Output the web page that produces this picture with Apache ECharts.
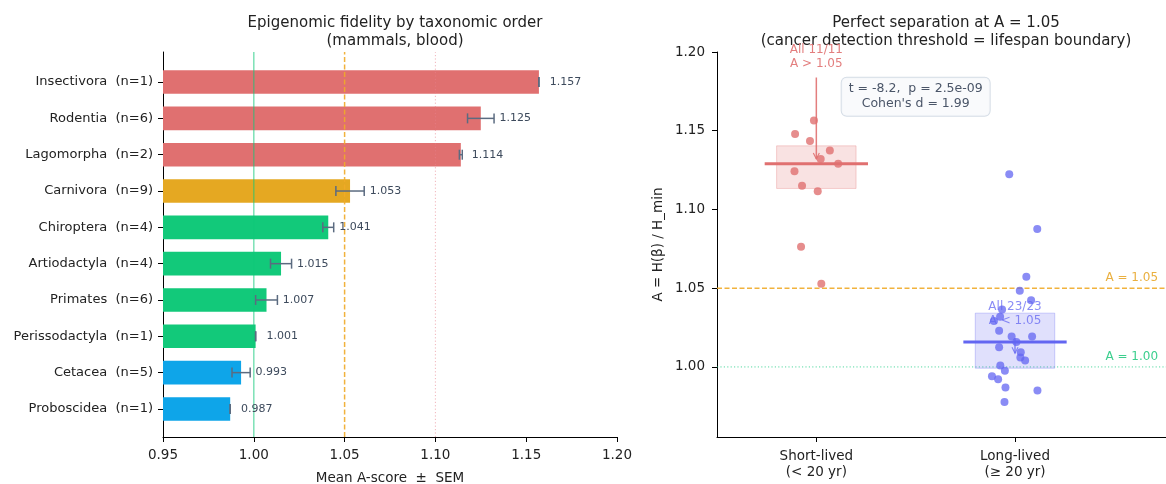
<!DOCTYPE html>
<html><head><meta charset="utf-8">
<script src="https://cdn.jsdelivr.net/npm/echarts@6/dist/echarts.min.js"></script>
<style>html,body{margin:0;padding:0;background:#fff}#c{width:1166px;height:484px}</style>
</head><body><div id="c"></div>
<script>
// ---------- Left panel data ----------
const orders = ['Insectivora','Rodentia','Lagomorpha','Carnivora','Chiroptera','Artiodactyla','Primates','Perissodactyla','Cetacea','Proboscidea'];
const orderN = [1,6,2,9,4,4,6,1,5,1];
const meanA = [1.157,1.125,1.114,1.053,1.041,1.015,1.007,1.001,0.993,0.987];
const semA  = [0,0.0073,0.0008,0.0078,0.003,0.0058,0.006,0,0.005,0];
const orderClass = ['high','high','high','mid','ok','ok','ok','ok','low','low'];
const xTicksLeft = [0.95,1.00,1.05,1.10,1.15,1.20];
const leftRefs = [1.00,1.05,1.10];

// ---------- Right panel data ----------
const groupLabels = ['Short-lived\n(< 20 yr)','Long-lived\n(\u2265 20 yr)'];
const shortJitter = [-0.012,-0.107,-0.032,0.068,0.022,0.110,-0.110,-0.072,0.007,-0.077,0.025];
const shortA      = [1.1565,1.148,1.1434,1.1374,1.1321,1.1291,1.1243,1.1151,1.1116,1.0763,1.0528];
const longJitter = [-0.029,0.112,0.057,0.024,0.081,-0.065,-0.075,-0.106,-0.080,-0.017,0.086,0.007,-0.080,0.029,0.027,0.051,-0.074,-0.051,-0.116,-0.085,-0.048,0.113,-0.053];
const longA      = [1.1224,1.0876,1.0573,1.0484,1.0424,1.0365,1.0318,1.0291,1.0229,1.0193,1.0193,1.0159,1.0125,1.0094,1.0060,1.0041,1.0009,0.9975,0.9941,0.9922,0.9869,0.9850,0.9777];
const yTicksRight = [1.00,1.05,1.10,1.15,1.20];

const FONT = 'DejaVu Sans';
const classColor = {high:'#e07070', mid:'#e5a822', ok:'#12c97a', low:'#0ea5e9'};
const RED = '#e07070', BLUE = '#6366f1';

function quantile(arr, q){
  const s = arr.slice().sort((a,b)=>a-b);
  const pos = (s.length-1)*q, lo = Math.floor(pos), hi = Math.ceil(pos);
  return s[lo] + (s[hi]-s[lo])*(pos-lo);
}
const groupStats = [shortA, longA].map((a,i)=>[i, quantile(a,0.25), quantile(a,0.5), quantile(a,0.75)]);

const chart = echarts.init(document.getElementById('c'), null, {renderer:'canvas'});

const option = {
  animation:false,
  backgroundColor:'#ffffff',
  textStyle:{fontFamily:FONT},
  title:[
    {text:'Epigenomic fidelity by taxonomic order\n(mammals, blood)', left:390, top:9, textAlign:'center',
     textStyle:{fontFamily:FONT,fontSize:15,fontWeight:'normal',color:'#222',lineHeight:18}},
    {text:'Perfect separation at A = 1.05\n(cancer detection threshold = lifespan boundary)', left:941, top:9, textAlign:'center',
     textStyle:{fontFamily:FONT,fontSize:15,fontWeight:'normal',color:'#222',lineHeight:18}}
  ],
  grid:[
    {left:163, right:549, top:52, bottom:47, outerBoundsMode:'none', containLabel:false},
    {left:163, right:549, top:63.9, bottom:56.9, outerBoundsMode:'none', containLabel:false},
    {left:717, right:0, top:52, bottom:47, outerBoundsMode:'none', containLabel:false}
  ],
  xAxis:[
    {type:'value', gridIndex:0, min:0.95, max:1.20, interval:0.05,
     axisLine:{lineStyle:{color:'#000',width:1}}, axisTick:{length:5,lineStyle:{color:'#000'}},
     axisLabel:{formatter:v=>v.toFixed(2), fontSize:13.5, color:'#222', margin:11, fontFamily:FONT},
     splitLine:{show:false},
     name:'Mean A-score  \u00b1  SEM', nameLocation:'middle', nameGap:34,
     nameTextStyle:{fontSize:13.5, color:'#222', fontFamily:FONT}},
    {type:'value', gridIndex:1, min:0.95, max:1.20, show:false},
    {type:'value', gridIndex:2, min:-0.5, max:1.76,
     axisLine:{onZero:false, lineStyle:{color:'#000',width:1}},
     axisTick:{length:5, customValues:[0,1], lineStyle:{color:'#000'}},
     axisLabel:{customValues:[0,1], formatter:v=>groupLabels[Math.round(v)], fontSize:13.5, color:'#222', lineHeight:16, margin:11, fontFamily:FONT},
     splitLine:{show:false}}
  ],
  yAxis:[
    {type:'value', gridIndex:0, min:0, max:1, axisLine:{show:true,onZero:false,lineStyle:{color:'#000'}},
     axisTick:{show:false}, axisLabel:{show:false}, splitLine:{show:false}},
    {type:'category', gridIndex:1, inverse:true, data:orders.map((o,i)=>o+'  (n='+orderN[i]+')'),
     axisLine:{show:false}, axisTick:{show:true, alignWithLabel:true, length:5, lineStyle:{color:'#000'}},
     axisLabel:{fontSize:13, color:'#222', margin:10, fontFamily:FONT}},
    {type:'value', gridIndex:2, min:0.9555, max:1.2,
     axisLine:{show:true, onZero:false, lineStyle:{color:'#000'}},
     axisTick:{show:true, length:5, customValues:yTicksRight, lineStyle:{color:'#000'}},
     axisLabel:{customValues:yTicksRight, formatter:v=>v.toFixed(2), fontSize:13.5, color:'#222', margin:12, fontFamily:FONT},
     splitLine:{show:false},
     name:'A = H(\u03b2) / H_min', nameLocation:'middle', nameGap:52,
     nameTextStyle:{fontSize:13.5, color:'#222', fontFamily:FONT}}
  ],
  series:[
    // bars
    {type:'bar', xAxisIndex:1, yAxisIndex:1, barWidth:'65%', z:2,
     data:meanA.map((m,i)=>({value:m, itemStyle:{color:classColor[orderClass[i]]}}))},
    // error bars + value labels
    {type:'custom', xAxisIndex:1, yAxisIndex:1, z:6,
     encode:{x:1,y:0},
     data:meanA.map((m,i)=>[i,m,semA[i]]),
     renderItem(params, api){
       const i = api.value(0), m = api.value(1), s = api.value(2);
       const a = api.coord([m - s, i]), b = api.coord([m + s, i]);
       const lx = api.coord([m + Math.max(s,0.003) + 0.003, i]);
       const st = {stroke:'#5b6b80', lineWidth:1.5};
       return {type:'group', children:[
         {type:'line', shape:{x1:a[0],y1:a[1],x2:b[0],y2:b[1]}, style:st},
         {type:'line', shape:{x1:a[0],y1:a[1]-5,x2:a[0],y2:a[1]+5}, style:st},
         {type:'line', shape:{x1:b[0],y1:b[1]-5,x2:b[0],y2:b[1]+5}, style:st},
         {type:'text', style:{text:m.toFixed(3), x:lx[0], y:lx[1], align:'left', verticalAlign:'middle',
           fill:'#3d4a5c', font:'11px "DejaVu Sans"'}}
       ]};
     }},
    // left reference lines
    {type:'custom', xAxisIndex:0, yAxisIndex:0, z:5,
     encode:{x:0},
     data:leftRefs.map(v=>[v]),
     renderItem(params, api){
       const v = api.value(0);
       const p0 = api.coord([v,0]), p1 = api.coord([v,1]);
       const styles = [
         {stroke:'rgba(16,201,122,0.55)', lineWidth:1.5},
         {stroke:'rgba(240,170,40,0.9)', lineWidth:1.5, lineDash:[5,2.5]},
         {stroke:'rgba(230,130,140,0.6)', lineWidth:1, lineDash:[1.2,2.2]}
       ];
       return {type:'line', shape:{x1:p0[0],y1:p0[1],x2:p1[0],y2:p1[1]}, style:styles[params.dataIndex]};
     }},
    // right: IQR boxes and medians
    {type:'custom', xAxisIndex:2, yAxisIndex:2, z:2,
     encode:{x:0,y:[1,2,3]},
     data:groupStats,
     renderItem(params, api){
       const g = api.value(0), q1 = api.value(1), med = api.value(2), q3 = api.value(3);
       const col = g === 0 ? [224,112,112] : [99,102,241];
       const tl = api.coord([g-0.2, q3]), br = api.coord([g+0.2, q1]);
       const m0 = api.coord([g-0.26, med]), m1 = api.coord([g+0.26, med]);
       return {type:'group', children:[
         {type:'rect', shape:{x:tl[0], y:tl[1], width:br[0]-tl[0], height:br[1]-tl[1]},
          style:{fill:'rgba('+col.join(',')+',0.2)', stroke:'rgba('+col.join(',')+',0.3)', lineWidth:1}},
         {type:'line', z2:20, shape:{x1:m0[0],y1:m0[1],x2:m1[0],y2:m1[1]},
          style:{stroke:'rgb('+col.join(',')+')', lineWidth:3}}
       ]};
     }},
    // right: reference lines
    {type:'custom', xAxisIndex:2, yAxisIndex:2, z:1,
     encode:{y:0},
     data:[[1.05],[1.00]],
     renderItem(params, api){
       const v = api.value(0);
       const p0 = api.coord([-0.5, v]), p1 = api.coord([1.76, v]), pl = api.coord([1.72, v]);
       const isT = params.dataIndex === 0;
       const col = isT ? 'rgba(240,170,40,0.9)' : 'rgba(16,201,122,0.7)';
       const tcol = isT ? '#eab040' : '#3ccf8e';
       return {type:'group', children:[
         {type:'line', shape:{x1:p0[0],y1:p0[1],x2:p1[0],y2:p1[1]},
          style: isT ? {stroke:col, lineWidth:1.5, lineDash:[5,2.5]} : {stroke:col, lineWidth:1, lineDash:[1.2,2.2]}},
         {type:'text', style:{text:'A = '+v.toFixed(2), x:pl[0], y:p0[1]-4, align:'right', verticalAlign:'bottom',
          fill:tcol, font:'12px "DejaVu Sans"'}}
       ]};
     }},
    // scatter points
    {type:'scatter', xAxisIndex:2, yAxisIndex:2, z:3, symbolSize:8,
     itemStyle:{color:RED, opacity:0.8},
     data:shortA.map((v,i)=>[shortJitter[i], v])},
    {type:'scatter', xAxisIndex:2, yAxisIndex:2, z:3, symbolSize:8,
     itemStyle:{color:BLUE, opacity:0.75},
     data:longA.map((v,i)=>[1 + longJitter[i], v])},
    // annotations: text + arrows
    {type:'custom', xAxisIndex:2, yAxisIndex:2, z:10,
     encode:{x:0,y:[1,2,3]},
     data:[[0,1.197,1.1838,1.1321],[1,1.0338,1.0183,1.0087]],
     renderItem(params, api){
       const g = api.value(0);
       const pt = api.coord([g, api.value(1)]), p0 = api.coord([g, api.value(2)]), p1 = api.coord([g, api.value(3)]);
       const col = g === 0 ? 'rgba(224,112,112,0.9)' : 'rgba(99,102,241,0.75)';
       const txt = g === 0 ? 'All 11/11\nA > 1.05' : 'All 23/23\nA < 1.05';
       return {type:'group', children:[
         {type:'text', style:{text:txt, x:pt[0], y:pt[1], align:'center', verticalAlign:'middle',
           fill:col, font:'12px "DejaVu Sans"', lineHeight:14.5}},
         {type:'line', shape:{x1:p0[0],y1:p0[1],x2:p1[0],y2:p1[1]}, style:{stroke:col, lineWidth:1.5}},
         {type:'polyline', shape:{points:[[p1[0]-3,p1[1]-6],[p1[0],p1[1]],[p1[0]+3,p1[1]-6]]}, style:{stroke:col, lineWidth:1.2, fill:null}}
       ]};
     }},
    // stats box
    {type:'custom', xAxisIndex:2, yAxisIndex:2, z:10,
     encode:{x:0,y:1},
     data:[[0.5,1.1716]],
     renderItem(params, api){
       const p = api.coord([api.value(0), api.value(1)]);
       return {type:'text', style:{text:"t = -8.2,  p = 2.5e-09\nCohen's d = 1.99", x:p[0], y:p[1],
         align:'center', verticalAlign:'middle', fill:'#4a5568', font:'12.5px "DejaVu Sans"', lineHeight:15,
         backgroundColor:'rgba(248,250,252,0.9)', borderColor:'#d5dde6', borderWidth:1, borderRadius:5,
         padding:[4,7,4,7]}};
     }}
  ]
};
chart.setOption(option);
</script></body></html>
